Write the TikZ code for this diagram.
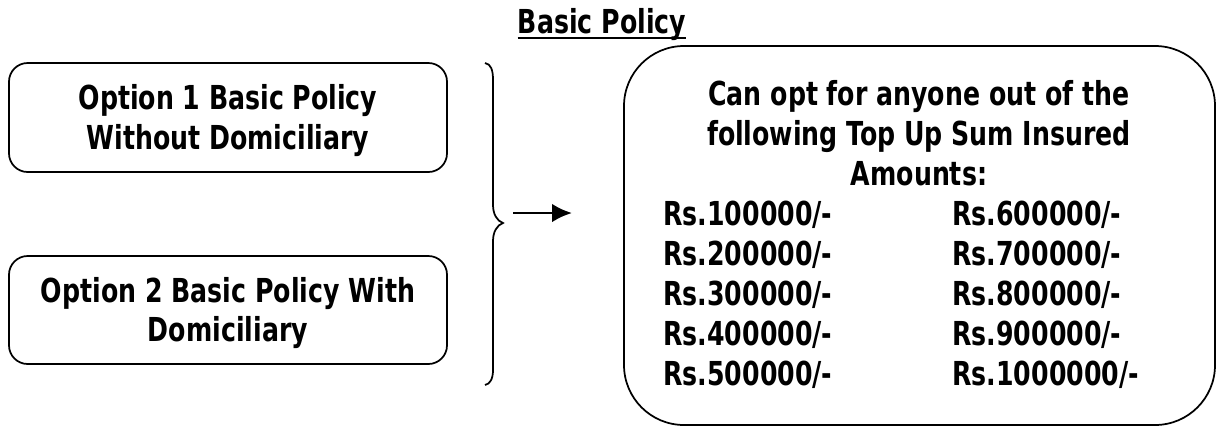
\documentclass[tikz,border=0pt]{standalone}
\usepackage{fontspec}
\usetikzlibrary{arrows.meta}
\setmainfont{DejaVu Sans Condensed}[FakeStretch=0.85]
\begin{document}
\begin{tikzpicture}[x=0.75pt,y=-0.75pt,
  txt/.style={font=\fontsize{24.75}{30}\selectfont\bfseries, anchor=base, inner sep=0pt},
  optbox/.style={draw, line width=1.3pt, rounded corners=14pt},
  amt/.style={font=\fontsize{24.75}{30}\selectfont\bfseries, anchor=base west, inner sep=0pt}]
\useasboundingbox (0,0) rectangle (1219,426);
% title
\node[txt, anchor=base] (title) at (602,33) {Basic Policy};
\draw[line width=1.5pt] (title.base west) ++(0,5) coordinate (ul1) -- (title.base east |- ul1);
% option boxes
\draw[optbox] (9,63) rectangle (447,172);
\node[txt] (o1a) at (228,109.5) {Option 1 Basic Policy};
\node[txt] (o1b) at (228,149) {Without Domiciliary};
\draw[optbox] (9,256) rectangle (447,364);
\node[txt] (o2a) at (228,302) {Option 2 Basic Policy With};
\node[txt] (o2b) at (228,341.5) {Domiciliary};
% brace
\draw[line width=1.3pt] (485,63) .. controls (491,64) and (493,70) .. (493,80) -- (493,205)
  .. controls (493,214) and (497,221) .. (503,223)
  .. controls (497,225) and (493,232) .. (493,241) -- (493,370)
  .. controls (493,379) and (490,384) .. (485,385);
\coordinate (tip) at (513,213);
\coordinate (arr) at (572,213);
\draw[line width=2pt, -{Latex[length=15pt,width=14pt]}] (tip) -- (arr);
% big box
\draw[line width=1.3pt, rounded corners=45pt] (624,46) rectangle (1215,425);
\node[txt] (h1) at (919,105) {Can opt for anyone out of the};
\node[txt] (h2) at (919,145) {following Top Up Sum Insured};
\node[txt] (h3) at (919,185) {Amounts:};
\foreach \a/\b [count=\i from 0] in {100000/600000,200000/700000,300000/800000,400000/900000,500000/1000000}{
  \node[amt] (l\i) at (663,{225+40*\i}) {Rs.\a/-};
  \node[amt] (r\i) at (952,{225+40*\i}) {Rs.\b/-};
}
\end{tikzpicture}
\end{document}
